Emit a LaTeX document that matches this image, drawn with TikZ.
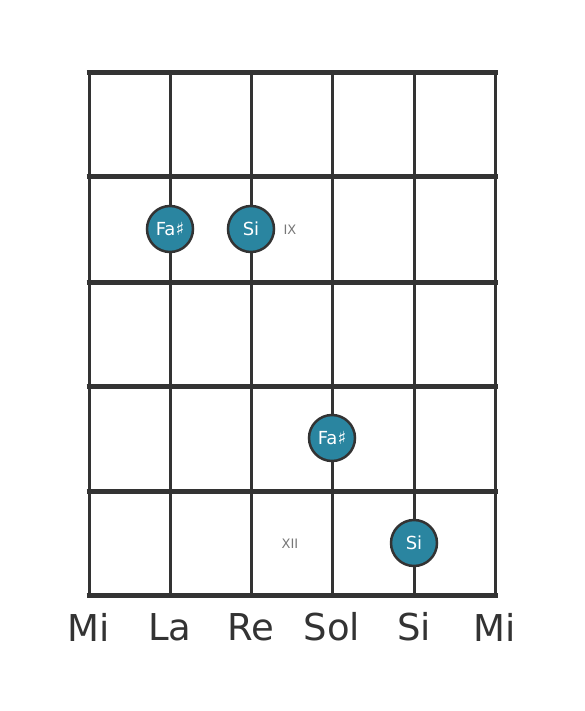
\documentclass[tikz,border=0pt]{standalone}
\usepackage{fontspec}
\setmainfont{DejaVu Sans}
\definecolor{gridcol}{HTML}{333333}
\definecolor{notecol}{HTML}{2A85A0}
\definecolor{fretcol}{HTML}{777777}
\tikzset{
  note/.style={circle,draw=gridcol,line width=2.5pt,fill=notecol,text=white,minimum size=46pt,inner sep=0pt,font=\fontsize{18}{18}\selectfont},
  fretnum/.style={text=fretcol,font=\fontsize{13}{13}\selectfont},
  saite/.style={text=gridcol,font=\fontsize{37}{37}\selectfont}
}
\begin{document}
\begin{tikzpicture}[x=1pt,y=-1pt]
		\useasboundingbox (0,0) rectangle (584,711);
		% Saiten
		\foreach \x in {89,170,251,332,414,495}
			\draw[gridcol,line width=3pt] (\x,72) -- (\x,595);
		% Buende
		\foreach \y in {73,177,282,386,491,595}
			\draw[gridcol,line width=5pt] (86.5,\y) -- (497.5,\y);

		% Knoten
		\node (F1) at (170,229) [note] {Fa♯};
		\node (S1) at (251,229) [note] {Si};
		\node (F2) at (332,438) [note] {Fa♯};
		\node (S2) at (414,543) [note] {Si};
		\node (IX) at (290,230) [fretnum] {IX};
		\node (XII) at (290,544) [fretnum] {XII};

		% Saitennamen
		\node (E1) at (89,627) [saite] {Mi};
		\node (A) at (170,627) [saite] {La};
		\node (D) at (251,627) [saite] {Re};
		\node (G) at (332,627) [saite] {Sol};
		\node (B) at (414,627) [saite] {Si};
		\node (E2) at (495,627) [saite] {Mi};
	\end{tikzpicture}
\end{document}
